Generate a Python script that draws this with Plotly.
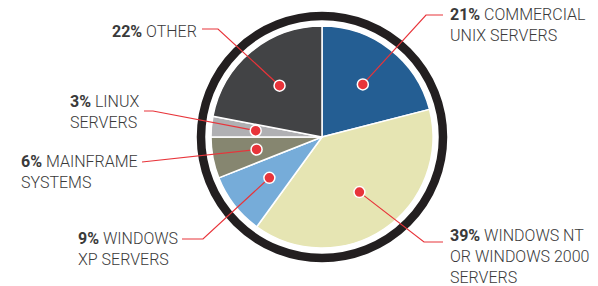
import math
import plotly.graph_objects as go

# ---- data ----
pct_labels = ["21%", "39%", "9%", "6%", "3%", "22%"]
categories = ["COMMERCIAL<br>UNIX SERVERS",
              "WINDOWS NT<br>OR WINDOWS 2000<br>SERVERS",
              "WINDOWS<br>XP SERVERS",
              "MAINFRAME<br>SYSTEMS",
              "LINUX<br>SERVERS",
              "OTHER"]
shares = [21, 39, 9, 6, 3, 22]
colors = ["#245e93", "#e6e5b3", "#76acd9", "#868670", "#b0b0b3", "#424345"]

# ---- layout constants ----
W, H = 598, 286
CX, CY, R = 322, 137, 111
RING_R, RING_W = 121, 8.5
DOT_F = 0.6
RED = "#e8343a"
TXT = "#3a3a3a"

# per-slice label layout: (elbow point, line end, text x, text y, xanchor)
label_layout = [
    ((426, 15), (443, 15), 448, 25, "left"),
    ((424, 242), (443, 242), 448, 256, "left"),
    ((203, 239), (182, 239), 180, 249, "right"),
    ((142, 162), (142, 162), 140, 172, "right"),
    ((153, 111), (144, 111), 142, 112, "right"),
    ((218, 29), (202, 29), 199, 31, "right"),
]

fig = go.Figure()

fig.add_trace(go.Pie(
    values=shares,
    labels=[c.replace("<br>", " ") for c in categories],
    marker=dict(colors=colors, line=dict(color="white", width=1.5)),
    sort=False, direction="clockwise", rotation=0,
    textinfo="none", hoverinfo="label+percent", showlegend=False,
    domain=dict(x=[(CX - R) / W, (CX + R) / W],
                y=[(H - CY - R) / H, (H - CY + R) / H]),
))

# invisible scatter to instantiate pixel axes
fig.add_trace(go.Scatter(x=[0, W], y=[0, H], mode="markers",
                         marker=dict(opacity=0), hoverinfo="skip", showlegend=False))

shapes = []
# outer ring
shapes.append(dict(type="circle", xref="x", yref="y",
                   x0=CX - RING_R, x1=CX + RING_R, y0=CY - RING_R, y1=CY + RING_R,
                   line=dict(color="#231f20", width=RING_W), layer="above"))

total = sum(shares)
cum = 0
dots = []
annotations = []
for i, v in enumerate(shares):
    mid = (cum + v / 2) / total * 2 * math.pi
    cum += v
    dx = CX + DOT_F * R * math.sin(mid)
    dy = CY - DOT_F * R * math.cos(mid)
    (ex, ey), (lx, ly), tx, ty, anc = label_layout[i]
    shapes.append(dict(type="path", xref="x", yref="y",
                       path=f"M {dx:.1f},{dy:.1f} L {ex},{ey} L {lx},{ly}",
                       line=dict(color=RED, width=1.2), layer="above"))
    dots.append(dict(type="circle", xref="x", yref="y",
                     x0=dx - 5.5, x1=dx + 5.5, y0=dy - 5.5, y1=dy + 5.5,
                     fillcolor=RED, line=dict(color="white", width=1.5), layer="above"))
    annotations.append(dict(
        x=tx, y=ty, xref="x", yref="y", xanchor=anc, yanchor="middle", align="left",
        text=f"<b>{pct_labels[i]}</b> {categories[i]}", showarrow=False,
        font=dict(family="Roboto", size=16, color=TXT, weight=300)))

fig.update_layout(
    width=W, height=H, margin=dict(l=0, r=0, t=0, b=0),
    paper_bgcolor="white", plot_bgcolor="white",
    xaxis=dict(range=[0, W], visible=False, fixedrange=True),
    yaxis=dict(range=[H, 0], visible=False, fixedrange=True),
    shapes=shapes + dots, annotations=annotations, showlegend=False,
)

fig.write_html("out.html", config={"displayModeBar": False},
               post_script="document.body.style.margin='0';document.body.style.overflow='hidden';")
